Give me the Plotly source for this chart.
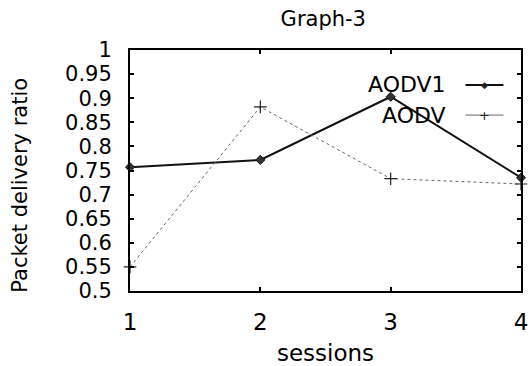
import plotly.graph_objects as go

sessions = [1, 2, 3, 4]
aodv1 = [0.757, 0.772, 0.903, 0.735]
aodv = [0.55, 0.882, 0.733, 0.722]
y_ticks = [0.5, 0.55, 0.6, 0.65, 0.7, 0.75, 0.8, 0.85, 0.9, 0.95, 1.0]
y_tick_labels = ["0.5", "0.55", "0.6", "0.65", "0.7", "0.75", "0.8", "0.85", "0.9", "0.95", "1"]
x_ticks = [1, 2, 3, 4]

FONT = "DejaVu Sans, Liberation Sans, Arial, sans-serif"

fig = go.Figure()
fig.add_trace(go.Scatter(
    x=sessions, y=aodv1, mode="lines+markers", name="AODV1",
    line=dict(color="#111111", width=2),
    marker=dict(symbol="diamond", size=7, color="#333333",
                line=dict(color="#111111", width=1)),
    showlegend=False, cliponaxis=False,
))
fig.add_trace(go.Scatter(
    x=sessions, y=aodv, mode="lines+markers", name="AODV",
    line=dict(color="#666666", width=1, dash="dot"),
    marker=dict(symbol="cross-thin", size=9, line=dict(color="#222222", width=1.2)),
    showlegend=False, cliponaxis=False,
))

axis_common = dict(
    showgrid=False, zeroline=False, showline=True, linecolor="black",
    linewidth=2, mirror="ticks", ticks="inside", ticklen=4, tickwidth=1.5,
    tickcolor="black", automargin=False,
)

fig.update_layout(
    width=530, height=366,
    margin=dict(l=130, r=9, t=50, b=75),
    paper_bgcolor="white", plot_bgcolor="white",
    title=dict(text="Graph-3", x=0.61, xanchor="center", y=0.95, yanchor="middle",
               font=dict(family=FONT, size=21, color="black")),
    xaxis=dict(range=[1, 4], tickvals=x_ticks, ticklabelstandoff=9,
               tickfont=dict(family=FONT, size=23, color="black"),
               title=dict(text="sessions", font=dict(family=FONT, size=23, color="black"),
                          standoff=12),
               **axis_common),
    yaxis=dict(range=[0.5, 1.0], tickvals=y_ticks, ticktext=y_tick_labels,
               ticklabelstandoff=12,
               tickfont=dict(family=FONT, size=21, color="black"),
               **axis_common),
)

fig.add_annotation(xref="paper", yref="paper", x=-0.282, y=0.44, text="Packet delivery ratio",
                   textangle=-90, showarrow=False, xanchor="center", yanchor="middle",
                   font=dict(family=FONT, size=21, color="black"))

# custom legend: text on the left, sample line on the right
legend_items = [("AODV1", 0.855, dict(color="#111111", width=2), "◆", 9),
                ("AODV", 0.73, dict(color="#666666", width=1), "+", 13)]
for name, yy, ln, sym, sz in legend_items:
    fig.add_annotation(xref="paper", yref="paper", x=0.814, y=yy, text=name,
                       showarrow=False, xanchor="right", yanchor="middle",
                       font=dict(family=FONT, size=22, color="black"))
    fig.add_shape(type="line", xref="paper", yref="paper", x0=0.858, x1=0.955,
                  y0=yy, y1=yy, line=ln)
    fig.add_annotation(xref="paper", yref="paper", x=0.906, y=yy, text=sym,
                       showarrow=False, xanchor="center", yanchor="middle",
                       font=dict(family=FONT, size=sz, color="#222222"))

fig.write_html("out.html", config={"displayModeBar": False},
               post_script="document.body.style.margin='0';document.body.style.overflow='hidden';")
